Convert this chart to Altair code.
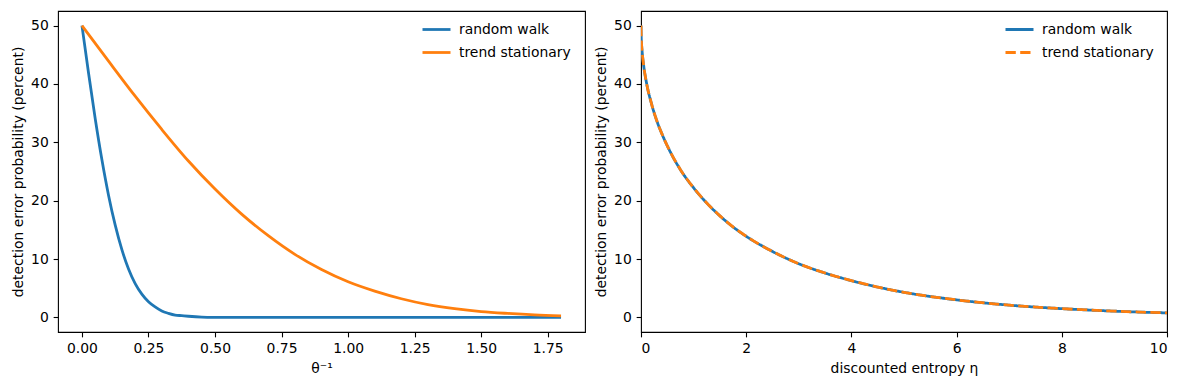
import altair as alt
import pandas as pd

# ---- data ----
series_names = ["random walk", "trend stationary"]
series_colors = ["#1f77b4", "#ff7f0e"]

# left panel: x = theta^{-1}
rw_theta = [0, 0.025, 0.05, 0.075, 0.1, 0.125, 0.15, 0.175, 0.2, 0.225, 0.25,
            0.275, 0.3, 0.325, 0.35, 0.375, 0.4, 0.45, 0.5, 0.6, 0.7, 0.8, 0.9,
            1.0, 1.1, 1.2, 1.3, 1.4, 1.5, 1.6, 1.7, 1.8]
rw_left = [50, 41.8, 34.0, 27.0, 20.9, 15.8, 11.6, 8.3, 5.8, 4.0, 2.7,
           1.8, 1.1, 0.7, 0.4, 0.3, 0.2, 0.06, 0.02, 0, 0, 0, 0,
           0, 0, 0, 0, 0, 0, 0, 0, 0]

ts_theta = [0, 0.1, 0.2, 0.3, 0.4, 0.5, 0.6, 0.7, 0.8, 0.9, 1.0,
            1.1, 1.2, 1.3, 1.4, 1.5, 1.6, 1.7, 1.8]
ts_left = [50, 43.9, 37.9, 32.2, 26.8, 22.0, 17.7, 14.0, 10.8, 8.2, 6.1,
           4.5, 3.2, 2.2, 1.5, 1.0, 0.68, 0.43, 0.27]

# right panel: x = discounted entropy eta
eta = [0, 0.005, 0.01, 0.02, 0.05, 0.1, 0.2, 0.3, 0.4, 0.5, 0.75, 1.0, 1.25,
       1.5, 1.75, 2.0, 2.5, 3.0, 3.5, 4.0, 4.5, 5, 6, 7, 8, 9, 10]
rw_right = [50, 47.8, 46.9, 45.7, 43.2, 40.4, 36.6, 33.7, 31.4, 29.4, 25.3,
            22.2, 19.6, 17.4, 15.5, 13.9, 11.3, 9.2, 7.6, 6.3, 5.2, 4.3, 3.0,
            2.1, 1.5, 1.07, 0.77]
ts_right = [50, 47.8, 46.9, 45.7, 43.2, 40.4, 36.6, 33.7, 31.4, 29.4, 25.3,
            22.2, 19.6, 17.4, 15.5, 13.9, 11.3, 9.2, 7.6, 6.3, 5.2, 4.3, 3.0,
            2.1, 1.5, 1.07, 0.77]

left_x_ticks = [0, 0.25, 0.5, 0.75, 1.0, 1.25, 1.5, 1.75]
right_x_ticks = [0, 2, 4, 6, 8, 10]
y_ticks = [0, 10, 20, 30, 40, 50]

# ---- tables ----
left_df = pd.concat([
    pd.DataFrame({"x": rw_theta, "p": rw_left, "series": series_names[0], "o": 0}),
    pd.DataFrame({"x": ts_theta, "p": ts_left, "series": series_names[1], "o": 1}),
])
right_df = pd.concat([
    pd.DataFrame({"x": eta, "p": rw_right, "series": series_names[0], "o": 0}),
    pd.DataFrame({"x": eta, "p": ts_right, "series": series_names[1], "o": 1}),
])

FONT = "DejaVu Sans"
FS = 13.9

y_title = "detection error probability (percent)"
y_enc = alt.Y("p:Q", scale=alt.Scale(domain=[-2.5, 52.5], nice=False, zero=False),
              axis=alt.Axis(values=y_ticks, title=y_title))

def legend(x):
    return alt.Legend(title=None, orient="none", legendX=x, legendY=3,
                      symbolType="stroke", symbolSize=784, symbolStrokeWidth=2.78,
                      labelFont=FONT, labelFontSize=FS, labelColor="black",
                      labelOffset=7, rowPadding=0, padding=0)

color_scale = alt.Scale(domain=series_names, range=series_colors)

left = alt.Chart(left_df).mark_line(strokeWidth=2.78, interpolate="monotone").encode(
    x=alt.X("x:Q", scale=alt.Scale(domain=[-0.09, 1.89], nice=False, zero=False),
            axis=alt.Axis(values=left_x_ticks, format=".2f", title="θ⁻¹")),
    y=y_enc,
    color=alt.Color("series:N", scale=color_scale, legend=legend(363)),
    order=alt.Order("o:Q"),
).properties(width=527, height=321)

right = alt.Chart(right_df).mark_line(strokeWidth=2.78, interpolate="monotone", clip=True).encode(
    x=alt.X("x:Q", scale=alt.Scale(domain=[0, 10], nice=False, zero=False),
            axis=alt.Axis(values=right_x_ticks, format="d", title="discounted entropy η")),
    y=y_enc,
    color=alt.Color("series:N", scale=color_scale, legend=legend(363)),
    strokeDash=alt.StrokeDash("series:N",
                              scale=alt.Scale(domain=series_names, range=[[1, 0], [10.3, 4.4]]),
                              legend=legend(363)),
    order=alt.Order("o:Q"),
).properties(width=526, height=321)

chart = alt.hconcat(left, right, spacing=7).resolve_scale(
    color="independent", strokeDash="independent"
).properties(
    padding={"left": 2, "top": 2, "right": 0, "bottom": 0},
    background="white",
).configure_view(
    stroke="black", strokeWidth=1.1
).configure_axis(
    labelFont=FONT, labelFontSize=FS, labelColor="black",
    titleFont=FONT, titleFontSize=FS, titleFontWeight="normal", titleColor="black",
    tickColor="black", tickSize=4.86, tickWidth=1.1, labelPadding=4.86,
    titlePadding=5.5, domain=False, grid=False,
)

chart.save("out.html", embed_options={"renderer": "svg", "actions": False})
